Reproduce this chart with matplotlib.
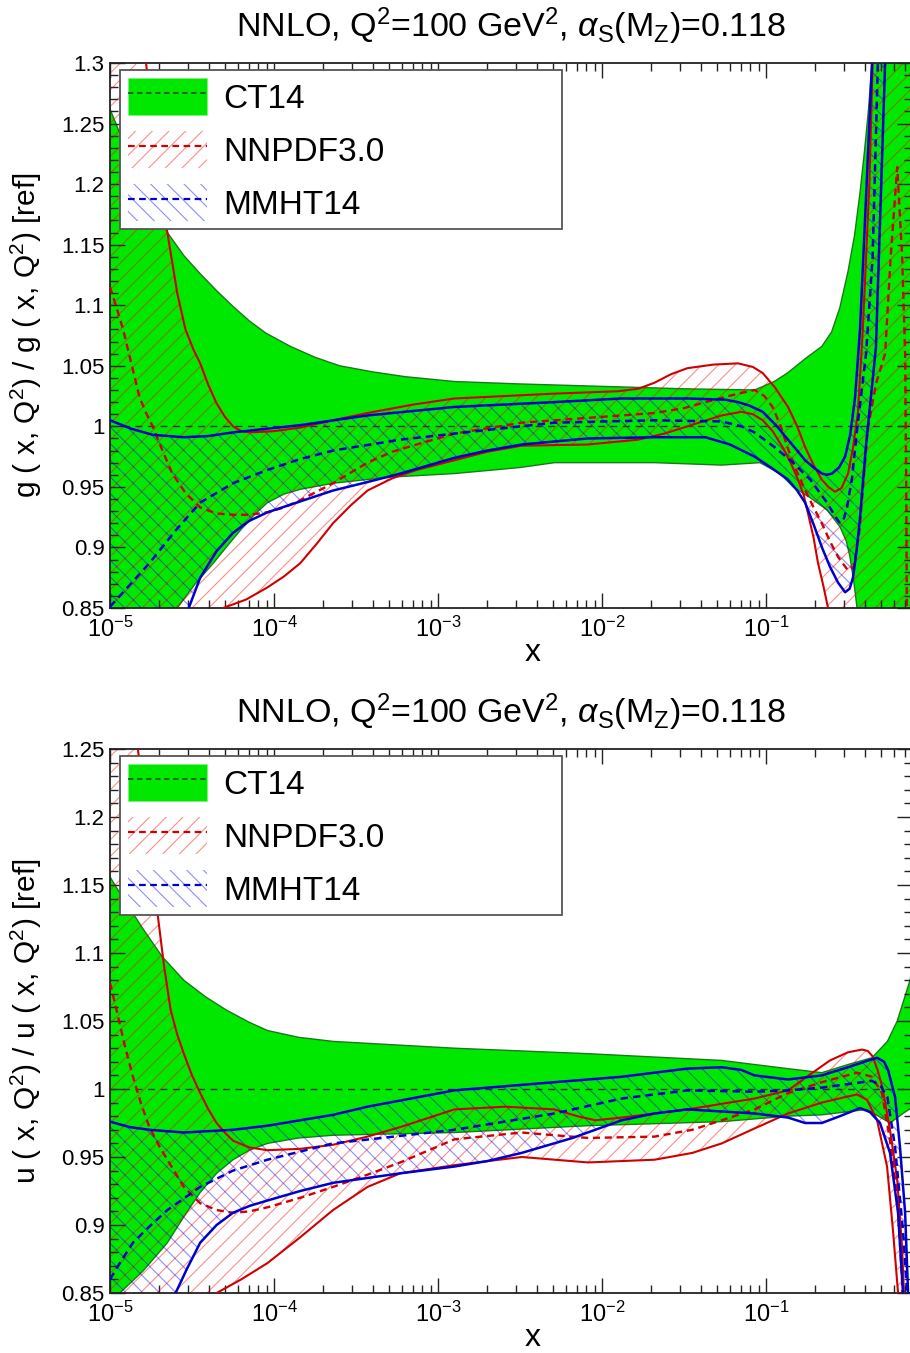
import numpy as np
import matplotlib
matplotlib.use('Agg')
import matplotlib.pyplot as plt
from matplotlib.patches import Patch
from matplotlib.lines import Line2D
from matplotlib.ticker import MultipleLocator, FuncFormatter, LogLocator

plt.rcParams['font.family'] = ['Liberation Sans', 'DejaVu Sans']
plt.rcParams['mathtext.fontset'] = 'custom'
plt.rcParams['mathtext.rm'] = 'Liberation Sans'
plt.rcParams['mathtext.it'] = 'Liberation Sans:italic'
plt.rcParams['mathtext.bf'] = 'Liberation Sans:bold'
plt.rcParams['hatch.linewidth'] = 0.8

# Data: columns are log10(x), ratio to CT14
ref_ratio = 1.0
labels = ['CT14', 'NNPDF3.0', 'MMHT14']
title = r'NNLO, Q$^2$=100 GeV$^2$, $\alpha_{\rm S}$(M$_{\rm Z}$)=0.118'

# ---- gluon panel ----
g_ct_hi = np.array([[-5.0, 1.262], [-4.94, 1.242], [-4.85, 1.215], [-4.75, 1.188], [-4.65, 1.160],
                    [-4.55, 1.141], [-4.45, 1.126], [-4.35, 1.112], [-4.25, 1.099], [-4.15, 1.087],
                    [-4.05, 1.077], [-3.90, 1.066], [-3.75, 1.057], [-3.60, 1.050], [-3.40, 1.045],
                    [-3.20, 1.041], [-2.90, 1.037], [-2.50, 1.035], [-2.0, 1.033], [-1.50, 1.031],
                    [-1.07, 1.030], [-0.95, 1.037], [-0.87, 1.044], [-0.75, 1.057], [-0.66, 1.066],
                    [-0.60, 1.078], [-0.55, 1.098], [-0.50, 1.128], [-0.46, 1.158], [-0.427, 1.193],
                    [-0.40, 1.227], [-0.375, 1.262], [-0.354, 1.30], [-0.30, 1.42], [-0.10, 1.5]])
g_ct_lo = np.array([[-5.0, 0.75], [-4.62, 0.84], [-4.59, 0.85], [-4.48, 0.870], [-4.37, 0.887],
                    [-4.28, 0.902], [-4.20, 0.915], [-4.12, 0.927], [-4.04, 0.937], [-3.94, 0.944],
                    [-3.84, 0.948], [-3.64, 0.953], [-3.30, 0.958], [-2.90, 0.961], [-2.50, 0.966],
                    [-2.29, 0.970], [-1.68, 0.970], [-1.27, 0.968], [-1.037, 0.970], [-0.915, 0.961],
                    [-0.835, 0.950], [-0.73, 0.941], [-0.628, 0.931], [-0.549, 0.917], [-0.51, 0.905],
                    [-0.488, 0.892], [-0.465, 0.872], [-0.445, 0.85], [-0.42, 0.80], [-0.10, 0.70]])
g_nn_hi = np.array([[-5.0, 1.6], [-4.85, 1.38], [-4.78, 1.30], [-4.72, 1.22], [-4.65, 1.16],
                    [-4.59, 1.11], [-4.54, 1.08], [-4.49, 1.063], [-4.45, 1.052], [-4.40, 1.034],
                    [-4.35, 1.019], [-4.30, 1.008], [-4.25, 1.000], [-4.20, 0.996], [-4.15, 0.995],
                    [-4.00, 0.996], [-3.84, 0.999], [-3.64, 1.005], [-3.43, 1.011], [-3.15, 1.018],
                    [-2.90, 1.023], [-2.29, 1.027], [-1.90, 1.029], [-1.78, 1.031], [-1.68, 1.036],
                    [-1.58, 1.043], [-1.48, 1.048], [-1.32, 1.051], [-1.17, 1.052], [-1.08, 1.049],
                    [-1.02, 1.044], [-0.945, 1.032], [-0.866, 1.016], [-0.81, 1.000], [-0.762, 0.983],
                    [-0.71, 0.968], [-0.66, 0.956], [-0.62, 0.950], [-0.58, 0.946], [-0.54, 0.949],
                    [-0.50, 0.961], [-0.47, 0.982], [-0.44, 1.011], [-0.41, 1.08], [-0.37, 1.20],
                    [-0.35, 1.30], [-0.33, 1.40], [-0.10, 1.40]])
g_nn_lo = np.array([[-5.0, 0.6], [-4.40, 0.80], [-4.31, 0.85], [-4.17, 0.857], [-4.04, 0.867],
                    [-3.94, 0.876], [-3.84, 0.887], [-3.74, 0.903], [-3.64, 0.920], [-3.53, 0.935],
                    [-3.43, 0.947], [-3.28, 0.957], [-3.13, 0.964], [-2.90, 0.972], [-2.70, 0.979],
                    [-2.49, 0.984], [-2.085, 0.985], [-1.78, 0.989], [-1.62, 0.994], [-1.48, 1.000],
                    [-1.27, 1.009], [-1.15, 1.012], [-1.08, 1.010], [-1.02, 1.005], [-0.96, 0.996],
                    [-0.90, 0.983], [-0.85, 0.970], [-0.805, 0.956], [-0.77, 0.943], [-0.744, 0.928],
                    [-0.71, 0.908], [-0.683, 0.887], [-0.65, 0.868], [-0.622, 0.85], [-0.58, 0.80],
                    [-0.10, 0.80]])
g_nn_c = np.array([[-5.0, 1.115], [-4.96, 1.098], [-4.92, 1.08], [-4.87, 1.052], [-4.82, 1.024],
                   [-4.78, 1.011], [-4.74, 1.000], [-4.68, 0.980], [-4.62, 0.961], [-4.54, 0.945],
                   [-4.45, 0.933], [-4.35, 0.928], [-4.25, 0.927], [-4.15, 0.927], [-4.04, 0.929],
                   [-3.94, 0.933], [-3.84, 0.939], [-3.74, 0.946], [-3.64, 0.953], [-3.53, 0.962],
                   [-3.43, 0.970], [-3.28, 0.979], [-3.13, 0.985], [-2.90, 0.994], [-2.49, 1.003],
                   [-2.085, 1.007], [-1.68, 1.011], [-1.50, 1.015], [-1.37, 1.020], [-1.17, 1.027],
                   [-1.07, 1.030], [-1.01, 1.025], [-0.96, 1.016], [-0.91, 1.000], [-0.87, 0.983],
                   [-0.82, 0.965], [-0.76, 0.947], [-0.71, 0.933], [-0.66, 0.920], [-0.61, 0.905],
                   [-0.56, 0.892], [-0.50, 0.881], [-0.465, 0.884], [-0.43, 0.914], [-0.38, 0.997],
                   [-0.33, 1.035], [-0.274, 1.06], [-0.24, 1.14], [-0.20, 1.214], [-0.17, 1.14],
                   [-0.152, 1.06], [-0.145, 0.95], [-0.14, 0.80]])
g_mm_hi = np.array([[-5.0, 1.005], [-4.87, 0.998], [-4.74, 0.993], [-4.55, 0.991], [-4.40, 0.992],
                    [-4.25, 0.995], [-3.84, 1.001], [-3.43, 1.009], [-2.90, 1.016], [-2.29, 1.020],
                    [-1.88, 1.023], [-1.48, 1.023], [-1.25, 1.022], [-1.17, 1.020], [-1.10, 1.017],
                    [-1.02, 1.012], [-0.94, 1.001], [-0.866, 0.989], [-0.81, 0.980], [-0.762, 0.972],
                    [-0.71, 0.966], [-0.659, 0.961], [-0.63, 0.960], [-0.598, 0.961], [-0.555, 0.966],
                    [-0.518, 0.975], [-0.487, 0.993], [-0.457, 1.024], [-0.427, 1.08], [-0.39, 1.19],
                    [-0.354, 1.30], [-0.30, 1.40]])
g_mm_lo = np.array([[-5.0, 0.70], [-4.6, 0.82], [-4.52, 0.85], [-4.45, 0.875], [-4.35, 0.897],
                    [-4.25, 0.912], [-4.15, 0.922], [-4.04, 0.929], [-3.84, 0.938], [-3.64, 0.947],
                    [-3.43, 0.954], [-3.23, 0.961], [-2.90, 0.974], [-2.70, 0.980], [-2.49, 0.985],
                    [-2.085, 0.990], [-1.68, 0.991], [-1.37, 0.991], [-1.22, 0.985], [-1.07, 0.975],
                    [-0.97, 0.966], [-0.866, 0.956], [-0.81, 0.947], [-0.762, 0.937], [-0.71, 0.919],
                    [-0.659, 0.900], [-0.61, 0.884], [-0.561, 0.871], [-0.518, 0.863], [-0.49, 0.866],
                    [-0.47, 0.875], [-0.45, 0.895], [-0.43, 0.920], [-0.39, 0.985], [-0.33, 1.065],
                    [-0.30, 1.19], [-0.274, 1.30], [-0.25, 1.40]])
g_mm_c = np.array([[-5.0, 0.851], [-4.88, 0.869], [-4.76, 0.887], [-4.60, 0.914], [-4.45, 0.937],
                   [-4.25, 0.953], [-4.04, 0.964], [-3.84, 0.973], [-3.64, 0.980], [-3.23, 0.989],
                   [-2.90, 0.994], [-2.29, 1.003], [-1.68, 1.005], [-1.27, 1.004], [-1.15, 1.000],
                   [-1.07, 0.995], [-0.95, 0.983], [-0.835, 0.970], [-0.73, 0.956], [-0.628, 0.937],
                   [-0.58, 0.926], [-0.549, 0.920], [-0.525, 0.924], [-0.506, 0.933], [-0.475, 0.958],
                   [-0.445, 0.997], [-0.39, 1.06], [-0.35, 1.14], [-0.318, 1.30], [-0.30, 1.40]])

# ---- up-quark panel ----
u_ct_hi = np.array([[-5.0, 1.156], [-4.94, 1.144], [-4.80, 1.118], [-4.68, 1.097], [-4.55, 1.080],
                    [-4.42, 1.068], [-4.29, 1.058], [-4.15, 1.049], [-4.04, 1.043], [-3.85, 1.038],
                    [-3.64, 1.035], [-2.90, 1.030], [-2.09, 1.026], [-1.27, 1.021], [-0.87, 1.015],
                    [-0.66, 1.012], [-0.50, 1.018], [-0.354, 1.023], [-0.26, 1.035], [-0.20, 1.050],
                    [-0.122, 1.080], [-0.09, 1.10]])
u_ct_lo = np.array([[-5.0, 0.84], [-4.94, 0.85], [-4.80, 0.866], [-4.65, 0.887], [-4.55, 0.906],
                    [-4.45, 0.924], [-4.35, 0.938], [-4.25, 0.948], [-4.15, 0.955], [-4.04, 0.960],
                    [-3.85, 0.964], [-3.64, 0.966], [-2.90, 0.968], [-2.09, 0.973], [-1.27, 0.976],
                    [-0.87, 0.980], [-0.66, 0.981], [-0.384, 0.985], [-0.30, 0.979], [-0.244, 0.975],
                    [-0.165, 0.982], [-0.09, 0.988]])
u_nn_hi = np.array([[-5.0, 1.5], [-4.90, 1.35], [-4.83, 1.25], [-4.77, 1.19], [-4.71, 1.129],
                    [-4.67, 1.09], [-4.63, 1.058], [-4.59, 1.040], [-4.55, 1.026], [-4.50, 1.010],
                    [-4.45, 0.997], [-4.40, 0.985], [-4.35, 0.975], [-4.30, 0.968], [-4.25, 0.962],
                    [-4.15, 0.957], [-4.04, 0.955], [-3.84, 0.956], [-3.64, 0.959], [-3.43, 0.965],
                    [-3.23, 0.972], [-2.90, 0.985], [-2.59, 0.987], [-2.29, 0.985], [-2.15, 0.980],
                    [-2.04, 0.977], [-1.88, 0.979], [-1.48, 0.985], [-1.07, 0.993], [-0.866, 0.999],
                    [-0.74, 1.010], [-0.61, 1.021], [-0.50, 1.027], [-0.415, 1.029], [-0.38, 1.028],
                    [-0.35, 1.024], [-0.32, 1.014], [-0.29, 1.001], [-0.244, 0.970], [-0.20, 0.933],
                    [-0.171, 0.884], [-0.159, 0.85], [-0.15, 0.80]])
u_nn_lo = np.array([[-5.0, 0.6], [-4.45, 0.80], [-4.35, 0.85], [-4.20, 0.860], [-4.04, 0.872],
                    [-3.84, 0.891], [-3.64, 0.911], [-3.43, 0.928], [-3.23, 0.938], [-2.90, 0.944],
                    [-2.49, 0.950], [-2.085, 0.946], [-1.68, 0.948], [-1.45, 0.953], [-1.27, 0.960],
                    [-1.07, 0.971], [-0.866, 0.982], [-0.66, 0.990], [-0.52, 0.994], [-0.445, 0.996],
                    [-0.384, 0.992], [-0.323, 0.977], [-0.262, 0.943], [-0.226, 0.896], [-0.195, 0.85],
                    [-0.18, 0.80]])
u_nn_c = np.array([[-5.0, 1.078], [-4.96, 1.058], [-4.91, 1.032], [-4.86, 1.009], [-4.81, 0.989],
                   [-4.76, 0.972], [-4.70, 0.958], [-4.65, 0.948], [-4.55, 0.928], [-4.45, 0.916],
                   [-4.35, 0.911], [-4.25, 0.909], [-4.15, 0.910], [-4.04, 0.913], [-3.84, 0.920],
                   [-3.64, 0.928], [-3.43, 0.937], [-3.23, 0.946], [-2.90, 0.963], [-2.49, 0.968],
                   [-2.085, 0.964], [-1.68, 0.965], [-1.45, 0.970], [-1.27, 0.977], [-1.07, 0.985],
                   [-0.866, 0.997], [-0.66, 1.005], [-0.445, 1.012], [-0.354, 1.009], [-0.293, 0.997],
                   [-0.244, 0.962], [-0.20, 0.921], [-0.171, 0.86], [-0.16, 0.80]])
u_mm_hi = np.array([[-5.0, 0.976], [-4.88, 0.972], [-4.76, 0.970], [-4.55, 0.968], [-4.25, 0.970],
                    [-4.04, 0.973], [-3.84, 0.977], [-3.64, 0.981], [-3.43, 0.987], [-2.90, 0.999],
                    [-2.29, 1.005], [-1.88, 1.009], [-1.48, 1.015], [-1.27, 1.016], [-1.15, 1.014],
                    [-1.07, 1.010], [-0.866, 1.007], [-0.66, 1.010], [-0.50, 1.016], [-0.40, 1.020],
                    [-0.323, 1.023], [-0.28, 1.020], [-0.256, 1.014], [-0.213, 0.994], [-0.183, 0.957],
                    [-0.152, 0.909], [-0.134, 0.85], [-0.12, 0.80]])
u_mm_lo = np.array([[-5.0, 0.70], [-4.70, 0.80], [-4.60, 0.85], [-4.53, 0.868], [-4.45, 0.887],
                    [-4.35, 0.900], [-4.25, 0.909], [-4.15, 0.914], [-4.04, 0.918], [-3.84, 0.925],
                    [-3.64, 0.931], [-3.23, 0.938], [-2.90, 0.943], [-2.70, 0.947], [-2.49, 0.953],
                    [-2.18, 0.964], [-1.88, 0.977], [-1.68, 0.982], [-1.48, 0.985], [-1.07, 0.982],
                    [-0.866, 0.979], [-0.762, 0.975], [-0.66, 0.975], [-0.55, 0.980], [-0.427, 0.986],
                    [-0.366, 0.983], [-0.305, 0.975], [-0.244, 0.953], [-0.195, 0.909], [-0.165, 0.85],
                    [-0.15, 0.80]])
u_mm_c = np.array([[-5.0, 0.860], [-4.93, 0.874], [-4.86, 0.887], [-4.75, 0.900], [-4.65, 0.911],
                   [-4.45, 0.928], [-4.25, 0.940], [-4.04, 0.948], [-3.64, 0.960], [-2.90, 0.970],
                   [-2.29, 0.982], [-1.88, 0.993], [-1.48, 0.999], [-1.07, 0.998], [-0.866, 0.999],
                   [-0.66, 1.001], [-0.354, 1.006], [-0.30, 1.002], [-0.26, 0.994], [-0.213, 0.957],
                   [-0.165, 0.896], [-0.14, 0.85], [-0.13, 0.80]])

GREEN = '#00e800'
GREEN_EDGE = '#1a7a1a'
RED = '#d00000'
BLUE = '#0000cc'
RED_H = (1.0, 0.0, 0.0, 0.45)
BLUE_H = (0.0, 0.0, 1.0, 0.45)
DASH = (0, (3, 2))


def xy(a):
    return 10 ** a[:, 0], a[:, 1]


def band(ax, hi, lo, **kw):
    xh, yh = xy(hi)
    xl, yl = xy(lo)
    ax.fill(np.r_[xh, xl[::-1]], np.r_[yh, yl[::-1]], **kw)


def panel(ax, ct_hi, ct_lo, nn_hi, nn_lo, nn_c, mm_hi, mm_lo, mm_c, ylim, ylabel):
    band(ax, ct_hi, ct_lo, facecolor=GREEN, edgecolor='none', zorder=1)
    ax.plot(*xy(ct_hi), color=GREEN_EDGE, lw=1.0, zorder=1.5)
    ax.plot(*xy(ct_lo), color=GREEN_EDGE, lw=1.0, zorder=1.5)
    band(ax, nn_hi, nn_lo, facecolor='none', edgecolor=RED_H, hatch='//', lw=0, zorder=2)
    band(ax, mm_hi, mm_lo, facecolor='none', edgecolor=BLUE_H, hatch='\\\\', lw=0, zorder=2)
    ax.axhline(ref_ratio, color='#333333', lw=1.0, ls=(0, (5, 4)), zorder=2.5)
    for a in (nn_hi, nn_lo):
        ax.plot(*xy(a), color=RED, lw=1.5, zorder=3)
    ax.plot(*xy(nn_c), color=RED, lw=1.7, ls=DASH, zorder=3)
    for a in (mm_hi, mm_lo):
        ax.plot(*xy(a), color=BLUE, lw=1.8, zorder=3.2)
    ax.plot(*xy(mm_c), color=BLUE, lw=1.8, ls=DASH, zorder=3.2)

    ax.set_xscale('log')
    ax.set_xlim(1e-5, 10 ** -0.11)
    ax.set_ylim(*ylim)
    ax.xaxis.set_major_locator(LogLocator(base=10, numticks=10))
    ax.xaxis.set_minor_locator(LogLocator(base=10, subs=np.arange(2, 10), numticks=20))
    ax.yaxis.set_major_locator(MultipleLocator(0.05))
    ax.yaxis.set_minor_locator(MultipleLocator(0.01))
    ax.yaxis.set_major_formatter(FuncFormatter(lambda v, p: f'{v:g}'))
    ax.tick_params(which='both', direction='in', top=True, right=True, color='#222222', width=1.0)
    ax.tick_params(which='major', length=11)
    ax.tick_params(which='minor', length=5.5)
    ax.tick_params(axis='y', labelsize=16, pad=4)
    ax.tick_params(axis='x', labelsize=17, pad=6)
    for s in ax.spines.values():
        s.set_linewidth(1.3)
        s.set_color('#222222')

    ax.set_title(title, fontsize=24.5, pad=19)
    ax.set_xlabel('x', fontsize=23)
    ax.xaxis.set_label_coords(0.527, -0.055)
    ax.set_ylabel(ylabel, fontsize=21.5)
    ax.yaxis.set_label_coords(-0.082, 0.5)

    handles = [
        (Patch(facecolor=GREEN, edgecolor='#80f080', lw=0.5),
         Line2D([], [], color='#2a5a2a', lw=1.3, ls=DASH)),
        (Patch(facecolor='white', edgecolor=RED_H, hatch='//', lw=0),
         Line2D([], [], color=RED, lw=1.6, ls=DASH)),
        (Patch(facecolor='white', edgecolor=BLUE_H, hatch='\\\\', lw=0),
         Line2D([], [], color=BLUE, lw=1.6, ls=DASH)),
    ]
    leg = ax.legend(handles, labels, loc='upper left', bbox_to_anchor=(0.0125, 0.0, 0.551, 0.987),
                    mode='expand', borderaxespad=0, fontsize=24, handlelength=2.35,
                    handleheight=1.3, labelspacing=0.5, handletextpad=0.5, borderpad=0.25,
                    fancybox=False, framealpha=1, edgecolor='#555555')
    leg.get_frame().set_linewidth(1.3)


fig = plt.figure(figsize=(9.1, 13.53), dpi=100)
ax1 = fig.add_axes([110 / 910, 1 - 608 / 1353, 802 / 910, 545 / 1353])
ax2 = fig.add_axes([110 / 910, 1 - 1293 / 1353, 802 / 910, 544 / 1353])

panel(ax1, g_ct_hi, g_ct_lo, g_nn_hi, g_nn_lo, g_nn_c, g_mm_hi, g_mm_lo, g_mm_c,
      (0.85, 1.3), r'g ( x, Q$^2$) / g ( x, Q$^2$) [ref]')
panel(ax2, u_ct_hi, u_ct_lo, u_nn_hi, u_nn_lo, u_nn_c, u_mm_hi, u_mm_lo, u_mm_c,
      (0.85, 1.25), r'u ( x, Q$^2$) / u ( x, Q$^2$) [ref]')

fig.savefig('out.png', dpi=100)
